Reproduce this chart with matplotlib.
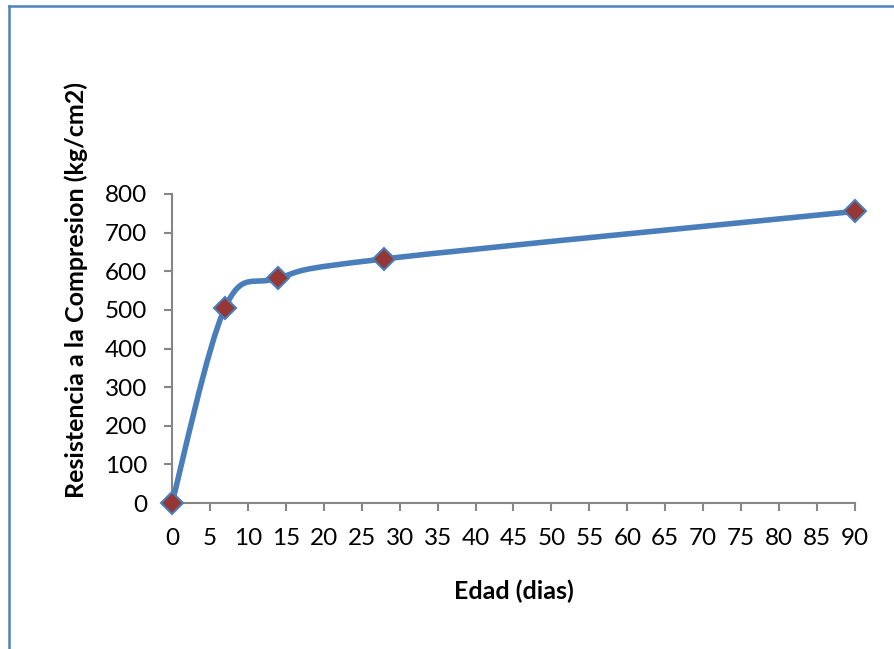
import numpy as np
import matplotlib
matplotlib.use("Agg")
import matplotlib.pyplot as plt
from matplotlib.path import Path
from matplotlib.patches import PathPatch
from matplotlib.lines import Line2D

edad = [0, 7, 14, 28, 90]
resistencia = [0, 506, 582, 632, 755]
xticks = list(range(0, 95, 5))
yticks = list(range(0, 900, 100))

plt.rcParams['font.family'] = ['Lato', 'DejaVu Sans']

fig = plt.figure(figsize=(8.95, 6.49), dpi=100)
ax = fig.add_axes([172/895, 1-503/649, (855-172)/895, (503-194)/649])

# Excel-style smoothed line (Bezier with 1/6 tangent)
pts = np.column_stack([edad, resistencia]).astype(float)
n = len(pts)
verts = [pts[0]]
codes = [Path.MOVETO]
for i in range(n-1):
    p0 = pts[i-1] if i > 0 else pts[i]
    p1 = pts[i]
    p2 = pts[i+1]
    p3 = pts[i+2] if i+2 < n else pts[i+1]
    c1 = p1 + (p2 - p0)/6
    c2 = p2 - (p3 - p1)/6
    verts += [c1, c2, p2]
    codes += [Path.CURVE4]*3
path = Path(verts, codes)
ax.add_patch(PathPatch(path, facecolor='none', edgecolor='#4A7EBB', lw=4.0,
                       capstyle='round', joinstyle='round', zorder=3))
ax.plot(edad, resistencia, linestyle='none', marker='D', markersize=11.5,
        markerfacecolor='#953735', markeredgecolor='#4A7EBB', markeredgewidth=1.5,
        zorder=4, clip_on=False)

ax.set_xlim(0, 90)
ax.set_ylim(0, 800)
ax.set_xticks(xticks)
ax.set_yticks(yticks)
for s in ['top', 'right']:
    ax.spines[s].set_visible(False)
for s in ['left', 'bottom']:
    ax.spines[s].set_color('#868686')
    ax.spines[s].set_linewidth(1.5)
ax.tick_params(axis='both', direction='out', length=6, width=1.5, color='#868686',
               labelsize=17.5, labelcolor='black')
ax.tick_params(axis='x', pad=12)
ax.tick_params(axis='y', pad=12)

ax.set_xlabel('Edad (dias)', fontsize=18, fontweight='bold', labelpad=22)
ax.set_ylabel('Resistencia a la Compresion (kg/cm2)', fontsize=18, fontweight='bold')
ax.yaxis.set_label_coords((88-172)/683, (503-290)/309)

# chart area border (left and top edges visible)
fig.add_artist(Line2D([9.5/895, 9.5/895], [0, 1-6/649], transform=fig.transFigure,
                      color='#4F81BD', lw=1.8))
fig.add_artist(Line2D([9.5/895, 1], [1-6/649, 1-6/649], transform=fig.transFigure,
                      color='#4F81BD', lw=1.8))

fig.savefig('out.png', dpi=100, facecolor='white')
